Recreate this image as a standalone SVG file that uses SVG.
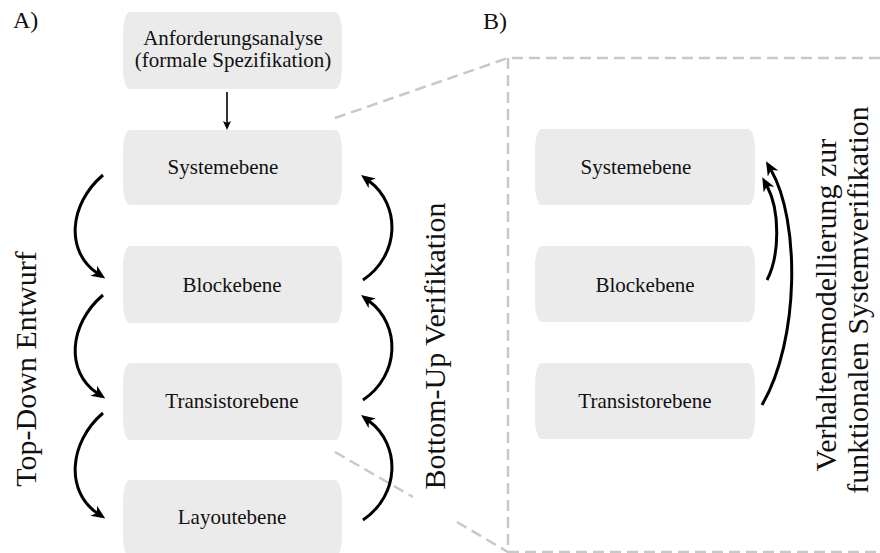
<svg xmlns="http://www.w3.org/2000/svg" width="880" height="553" viewBox="0 0 880 553">
<style>
.box{fill:#ebebeb;stroke:none}
.t{font-family:"Liberation Serif","Times New Roman",serif;font-size:21px;fill:#111;text-anchor:middle}
.big{font-family:"Liberation Serif","Times New Roman",serif;font-size:30px;fill:#111;text-anchor:middle}
.lbl{font-family:"Liberation Serif","Times New Roman",serif;font-size:24px;fill:#111}
.arc{fill:none;stroke:#000;stroke-width:3;marker-end:url(#ah)}
.dash{fill:none;stroke:#c8c8c8;stroke-width:2.5;stroke-dasharray:11 6}
</style>
<defs>
<marker id="ah" markerUnits="userSpaceOnUse" viewBox="0 0 14 12" markerWidth="14" markerHeight="12" refX="4" refY="6" orient="auto">
<path d="M0,0 L14,6 L0,12 L4,6 z" fill="#000"/>
</marker>
<marker id="ahs" markerUnits="userSpaceOnUse" viewBox="0 0 9 8" markerWidth="9" markerHeight="8" refX="2" refY="4" orient="auto">
<path d="M0,0 L9,4 L0,8 L2,4 z" fill="#000"/>
</marker>
</defs>

<text class="lbl" x="13" y="28">A)</text>
<text class="lbl" x="483" y="29">B)</text>

<g id="dashes">
<path class="dash" d="M335,118 L508,58 L880,58"/>
<path class="dash" d="M508,58 L508,553"/>
<path class="dash" d="M508,552 L880,552"/>
<path class="dash" d="M335,452 L413,497"/>
<path class="dash" d="M457,522 L508,552"/>
</g>

<g id="a-anforderung">
<rect class="box" x="123" y="12" width="219" height="77" rx="7" ry="20"/>
<text class="t" x="233" y="45">Anforderungsanalyse</text>
<text class="t" x="233" y="67">(formale Spezifikation)</text>
</g>
<g id="a-system">
<rect class="box" x="123" y="130" width="219" height="75" rx="7" ry="20"/>
<text class="t" x="223" y="174">Systemebene</text>
</g>
<g id="a-block">
<rect class="box" x="123" y="246" width="219" height="77" rx="7" ry="20"/>
<text class="t" x="232" y="292">Blockebene</text>
</g>
<g id="a-transistor">
<rect class="box" x="123" y="363" width="219" height="77" rx="7" ry="20"/>
<text class="t" x="232" y="408">Transistorebene</text>
</g>
<g id="a-layout">
<rect class="box" x="123" y="480" width="219" height="77" rx="7" ry="20"/>
<text class="t" x="232" y="524">Layoutebene</text>
</g>

<g id="b-system">
<rect class="box" x="535" y="129" width="220" height="76" rx="7" ry="20"/>
<text class="t" x="636" y="174">Systemebene</text>
</g>
<g id="b-block">
<rect class="box" x="535" y="246" width="220" height="76" rx="7" ry="20"/>
<text class="t" x="645" y="292">Blockebene</text>
</g>
<g id="b-transistor">
<rect class="box" x="535" y="363" width="220" height="76" rx="7" ry="20"/>
<text class="t" x="645" y="408">Transistorebene</text>
</g>

<g id="labels">
<text class="big" transform="translate(35.5,369) rotate(-90)">Top-Down Entwurf</text>
<text class="big" transform="translate(445,346) rotate(-90)">Bottom-Up Verifikation</text>
<text class="big" transform="translate(836,305) rotate(-90)">Verhaltensmodellierung zur</text>
<text class="big" transform="translate(868,300) rotate(-90)">funktionalen Systemverifikation</text>
</g>

<g id="connectors">
<path d="M227,92 L227,123" fill="none" stroke="#000" stroke-width="1.6" marker-end="url(#ahs)"/>
<path class="arc" d="M103,175 C68,205 66,252 97,273"/>
<path class="arc" d="M103,295 C68,325 66,372 97,393"/>
<path class="arc" d="M103,413 C68,443 66,492 97,513"/>
<path class="arc" d="M363,280 C400,255 401,205 369,181"/>
<path class="arc" d="M363,400 C400,375 401,325 369,301"/>
<path class="arc" d="M363,520 C400,495 401,445 369,421"/>
<path class="arc" d="M767,280 C780,255 780,210 767,186"/>
<path class="arc" d="M762,405 C800,340 800,220 771,170"/>
</g>
</svg>
